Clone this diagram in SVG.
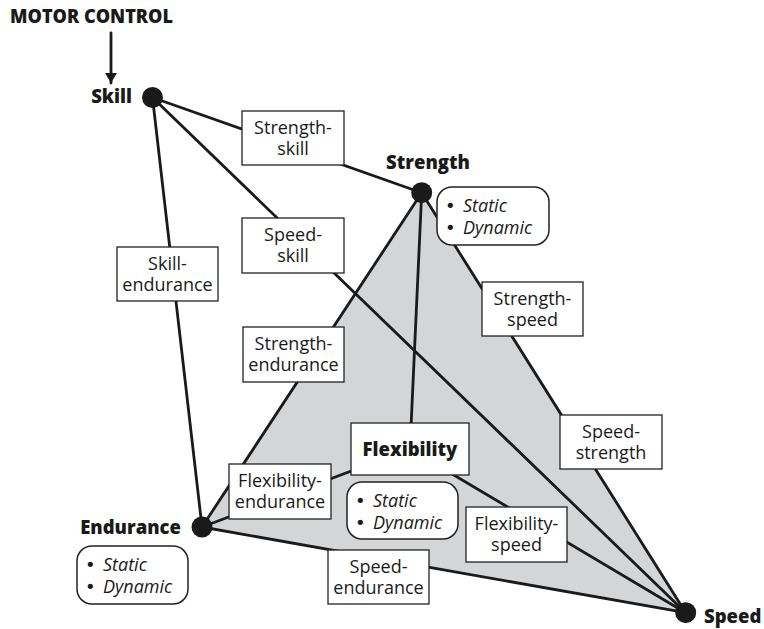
<svg xmlns="http://www.w3.org/2000/svg" width="764" height="629" viewBox="0 0 764 629">
<style>
.edge{stroke:#1a1a1a;stroke-width:2.8;fill:none;stroke-linecap:round}
.dot{fill:#1a1a1a}
.lbl{font-family:"Open Sans","Liberation Sans",sans-serif;font-weight:800;font-size:18.5px;fill:#1a1a1a}
.box{fill:#fff;stroke:#222;stroke-width:1.3}
.rbox{fill:#fff;stroke:#222;stroke-width:1.5}
.t{font-family:"Open Sans","Liberation Sans",sans-serif;font-size:18px;fill:#1a1a1a;text-anchor:middle}
.it{font-family:"Open Sans","Liberation Sans",sans-serif;font-size:18px;fill:#1a1a1a;font-style:italic}
.bu{font-family:"DejaVu Sans",sans-serif;font-size:18px;fill:#1a1a1a}
</style>
<defs>
<marker id="ah" viewBox="0 0 10 12" refX="10" refY="6" markerWidth="10" markerHeight="12" markerUnits="userSpaceOnUse" orient="auto">
<path d="M0,0 L10,6 L0,12 z" fill="#1a1a1a"/>
</marker>
</defs>
<polygon points="421.7,192.7 202,527 685.7,612.7" fill="#d4d5d7"/>
<g id="connectors">
<line class="edge" x1="111" y1="33" x2="111" y2="83" stroke-width="2" marker-end="url(#ah)"/>
<line class="edge" x1="152.5" y1="97.5" x2="421.7" y2="192.7"/>
<line class="edge" x1="152.5" y1="97.5" x2="685.7" y2="612.7"/>
<line class="edge" x1="152.5" y1="97.5" x2="202" y2="527"/>
<line class="edge" x1="421.7" y1="192.7" x2="202" y2="527"/>
<line class="edge" x1="421.7" y1="192.7" x2="685.7" y2="612.7"/>
<line class="edge" x1="421.7" y1="192.7" x2="410" y2="449"/>
<line class="edge" x1="202" y1="527" x2="685.7" y2="612.7"/>
<line class="edge" x1="202" y1="527" x2="410" y2="449"/>
<line class="edge" x1="410" y1="449" x2="685.7" y2="612.7"/>
</g>
<g id="motor-control"><text class="lbl" x="10" y="23" textLength="163" lengthAdjust="spacingAndGlyphs">MOTOR CONTROL</text></g>
<g id="skill"><circle class="dot" cx="152.5" cy="97.5" r="10.5"/><text class="lbl" x="132" y="103" text-anchor="end">Skill</text></g>
<g id="strength"><circle class="dot" cx="421.7" cy="192.7" r="10.5"/><text class="lbl" x="428" y="169" text-anchor="middle">Strength</text>
<rect class="rbox" x="437" y="187" width="112" height="58" rx="15"/>
<text class="bu" x="445" y="212">•</text><text class="it" x="463" y="212">Static</text>
<text class="bu" x="445" y="233.5">•</text><text class="it" x="463" y="233.5">Dynamic</text></g>
<g id="endurance"><circle class="dot" cx="202" cy="527" r="10.5"/><text class="lbl" x="181" y="534" text-anchor="end">Endurance</text>
<rect class="rbox" x="77" y="546" width="111" height="58" rx="15"/>
<text class="bu" x="85" y="571">•</text><text class="it" x="103" y="571">Static</text>
<text class="bu" x="85" y="592.5">•</text><text class="it" x="103" y="592.5">Dynamic</text></g>
<g id="speed"><circle class="dot" cx="685.7" cy="612.7" r="10.5"/><text class="lbl" x="704" y="623">Speed</text></g>
<g id="flexibility"><rect class="box" x="351" y="423" width="118" height="52"/><text class="lbl" x="410" y="456" text-anchor="middle">Flexibility</text>
<rect class="rbox" x="347" y="482" width="111" height="57" rx="15"/>
<text class="bu" x="355" y="507">•</text><text class="it" x="373" y="507">Static</text>
<text class="bu" x="355" y="528.5">•</text><text class="it" x="373" y="528.5">Dynamic</text></g>
<g id="strength-skill"><rect class="box" x="242" y="111" width="102" height="54"/><text class="t" x="293" y="134">Strength-</text><text class="t" x="293" y="155">skill</text></g>
<g id="speed-skill"><rect class="box" x="242" y="218" width="102" height="55"/><text class="t" x="293" y="241">Speed-</text><text class="t" x="293" y="262">skill</text></g>
<g id="skill-endurance"><rect class="box" x="117" y="247" width="101" height="54"/><text class="t" x="167.5" y="269.5">Skill-</text><text class="t" x="167.5" y="291">endurance</text></g>
<g id="strength-endurance"><rect class="box" x="243" y="327" width="101" height="55"/><text class="t" x="293.5" y="349.5">Strength-</text><text class="t" x="293.5" y="371">endurance</text></g>
<g id="strength-speed"><rect class="box" x="482" y="282" width="101" height="54"/><text class="t" x="532.5" y="304.5">Strength-</text><text class="t" x="532.5" y="326">speed</text></g>
<g id="speed-strength"><rect class="box" x="560" y="415" width="102" height="54"/><text class="t" x="611" y="437.5">Speed-</text><text class="t" x="611" y="459">strength</text></g>
<g id="flexibility-endurance"><rect class="box" x="229" y="464" width="102" height="55"/><text class="t" x="280" y="486.5">Flexibility-</text><text class="t" x="280" y="508">endurance</text></g>
<g id="flexibility-speed"><rect class="box" x="466" y="507" width="101" height="55"/><text class="t" x="516.5" y="529.5">Flexibility-</text><text class="t" x="516.5" y="551">speed</text></g>
<g id="speed-endurance"><rect class="box" x="328" y="550" width="101" height="54"/><text class="t" x="378.5" y="572.5">Speed-</text><text class="t" x="378.5" y="594">endurance</text></g>
</svg>
